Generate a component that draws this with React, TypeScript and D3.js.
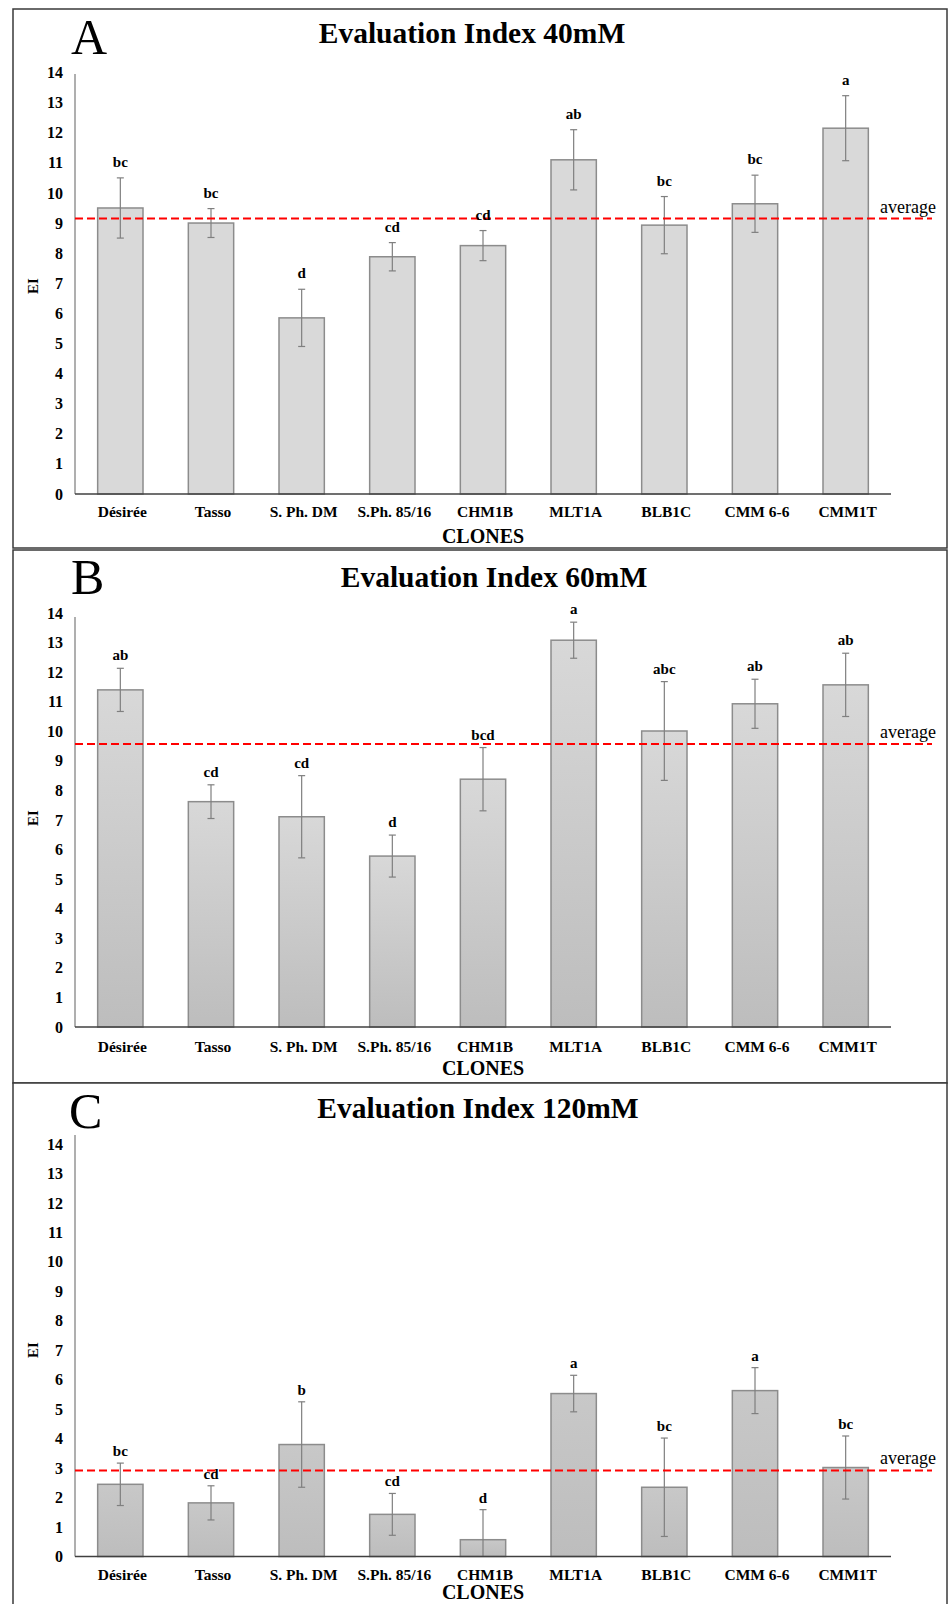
import React from "react";
import * as d3 from "d3";

// clones on the x axis, same order in all three panels
const clones = ["Désirée", "Tasso", "S. Ph. DM", "S.Ph. 85/16", "CHM1B", "MLT1A", "BLB1C", "CMM 6-6", "CMM1T"];
const yTicks = d3.range(0, 15);

// 40 mM
const ei40 = [9.5, 9.0, 5.85, 7.88, 8.25, 11.1, 8.93, 9.64, 12.15];
const err40 = [1.0, 0.48, 0.95, 0.47, 0.5, 1.0, 0.95, 0.95, 1.08];
const letters40 = ["bc", "bc", "d", "cd", "cd", "ab", "bc", "bc", "a"];
const avg40 = 9.15;

// 60 mM
const ei60 = [11.4, 7.62, 7.11, 5.78, 8.38, 13.08, 10.01, 10.93, 11.57];
const err60 = [0.73, 0.57, 1.39, 0.71, 1.07, 0.61, 1.67, 0.83, 1.07];
const letters60 = ["ab", "cd", "cd", "d", "bcd", "a", "abc", "ab", "ab"];
const avg60 = 9.57;

// 120 mM
const ei120 = [2.45, 1.82, 3.8, 1.43, 0.57, 5.53, 2.35, 5.63, 3.02];
const err120 = [0.72, 0.58, 1.45, 0.71, 1.02, 0.62, 1.67, 0.78, 1.07];
const letters120 = ["bc", "cd", "b", "cd", "d", "a", "bc", "a", "bc"];
const avg120 = 2.92;

const serif = "'Liberation Serif', 'Times New Roman', serif";

// layout of each panel (page coordinates)
const panels = [
  {
    id: "A", title: "Evaluation Index 40mM", values: ei40, errors: err40, letters: letters40, average: avg40,
    frameTop: 9, frameBottom: 548, titleX: 472, titleY: 43, letterX: 71, letterY: 54,
    y0: 494, y14: 72.5, axisTop: 74, tickY: 517, clonesY: 543, eiY: 286, labelGap: 11,
    fillTop: "#d9d9d9", fillBottom: "#d9d9d9",
  },
  {
    id: "B", title: "Evaluation Index 60mM", values: ei60, errors: err60, letters: letters60, average: avg60,
    frameTop: 550, frameBottom: 1083, titleX: 494, titleY: 587, letterX: 71, letterY: 594,
    y0: 1027, y14: 613, axisTop: 617, tickY: 1052, clonesY: 1075, eiY: 818, labelGap: 8,
    fillTop: "#d8d8d8", fillBottom: "#bdbdbd",
  },
  {
    id: "C", title: "Evaluation Index 120mM", values: ei120, errors: err120, letters: letters120, average: avg120,
    frameTop: 1083, frameBottom: 1612, titleX: 478, titleY: 1118, letterX: 69, letterY: 1128,
    y0: 1556.5, y14: 1144, axisTop: 1135, tickY: 1580, clonesY: 1599, eiY: 1350, labelGap: 7,
    fillTop: "#c8c8c8", fillBottom: "#bdbdbd",
  },
];

const x = d3.scaleBand<string>().domain(clones).range([75, 891]).paddingInner(0.5).paddingOuter(0.25);

const Panel = ({ p }: { p: (typeof panels)[number] }) => {
  const y = d3.scaleLinear().domain([0, 14]).range([p.y0, p.y14]);
  const bw = x.bandwidth();
  const gradId = `grad${p.id}`;
  const avgY = y(p.average);

  return (
    <g>
      <defs>
        <linearGradient id={gradId} x1="0" y1="0" x2="0" y2="1">
          <stop offset="0%" stopColor={p.fillTop} />
          <stop offset="100%" stopColor={p.fillBottom} />
        </linearGradient>
      </defs>
      <rect x={13} y={p.frameTop} width={934} height={p.frameBottom - p.frameTop} fill="white" stroke="#3a3a3a" strokeWidth={1.5} />

      <text x={p.letterX} y={p.letterY} fontFamily={serif} fontSize={50}>{p.id}</text>
      <text x={p.titleX} y={p.titleY} textAnchor="middle" fontFamily={serif} fontSize={29.5} fontWeight="bold">{p.title}</text>

      {/* y axis */}
      <line x1={75} x2={75} y1={p.axisTop} y2={p.y0} stroke="#7a7a7a" strokeWidth={1.2} />
      {yTicks.map((t) => (
        <text key={t} x={63} y={y(t)} dy="0.35em" textAnchor="end" fontFamily={serif} fontSize={16} fontWeight="bold">{t}</text>
      ))}
      <text transform={`translate(38,${p.eiY}) rotate(-90)`} textAnchor="middle" fontFamily={serif} fontSize={15} fontWeight="bold">EI</text>

      {/* bars */}
      {clones.map((c, i) => (
        <rect key={c} x={x(c)} y={y(p.values[i])} width={bw} height={p.y0 - y(p.values[i])}
          fill={`url(#${gradId})`} stroke="#8c8c8c" strokeWidth={1.5} />
      ))}

      {/* error bars */}
      {clones.map((c, i) => {
        const cx = (x(c) as number) + bw / 2;
        const hi = y(p.values[i] + p.errors[i]);
        const lo = y(Math.max(0, p.values[i] - p.errors[i]));
        return (
          <g key={c} stroke="#7f7f7f" strokeWidth={1.2}>
            <line x1={cx} x2={cx} y1={hi} y2={lo} />
            <line x1={cx - 3.5} x2={cx + 3.5} y1={hi} y2={hi} />
            {p.values[i] - p.errors[i] > 0 && <line x1={cx - 3.5} x2={cx + 3.5} y1={lo} y2={lo} />}
          </g>
        );
      })}

      {/* x axis */}
      <line x1={75} x2={891} y1={p.y0} y2={p.y0} stroke="#404040" strokeWidth={1.5} />
      {clones.map((c) => (
        <text key={c} x={(x(c) as number) + bw / 2 + 2} y={p.tickY} textAnchor="middle" fontFamily={serif} fontSize={15.5} fontWeight="bold">{c}</text>
      ))}
      <text x={483} y={p.clonesY} textAnchor="middle" fontFamily={serif} fontSize={20} fontWeight="bold">CLONES</text>

      {/* average line */}
      <line x1={75} x2={932} y1={avgY} y2={avgY} stroke="#ff0000" strokeWidth={2} strokeDasharray="8,4" />
      <text x={880} y={avgY - 6} fontFamily={serif} fontSize={18}>average</text>

      {/* significance letters */}
      {clones.map((c, i) => (
        <text key={c} x={(x(c) as number) + bw / 2} y={y(p.values[i] + p.errors[i]) - p.labelGap}
          textAnchor="middle" fontFamily={serif} fontSize={15} fontWeight="bold">{p.letters[i]}</text>
      ))}
    </g>
  );
};

const App = () => (
  <div style={{ position: "absolute", left: 0, top: 0 }}>
    <svg width={949} height={1604} style={{ display: "block", background: "white" }}>
      {panels.map((p) => (
        <Panel key={p.id} p={p} />
      ))}
    </svg>
  </div>
);

export default App;
